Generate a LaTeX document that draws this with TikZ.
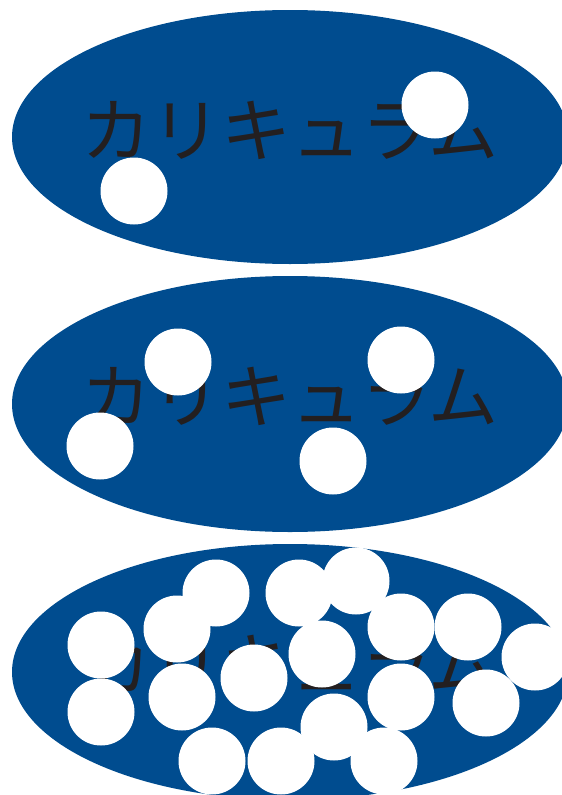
\documentclass[tikz,border=0pt]{standalone}
\usepackage{fontspec}
\newfontfamily\jpfont{Noto Sans CJK JP}
\definecolor{podblue}{RGB}{0,76,143}
\definecolor{inkgray}{RGB}{35,31,32}

\begin{document}
\begin{tikzpicture}[x=1pt,y=-1pt,
  pod/.style={fill=podblue},
  spot/.style={fill=white},
  kana/.style={text=inkgray,inner sep=0pt,font=\jpfont\fontsize{70}{70}\selectfont}]

\useasboundingbox (0,0) rectangle (562,795);

% Blue ellipses
\fill[pod] (290,137) ellipse (278 and 127);
\fill[pod] (290,404) ellipse (278 and 128);
\fill[pod] (290,672) ellipse (278 and 128);

% Labels
\node[kana] (top) at (290,130) {カリキュラム};
\node[kana] (mid) at (290,396) {カリキュラム};
\node[kana] (low) at (290,664) {カリキュラム};

% Top: two spots
\fill[spot] (435,105) circle (33.5);
\fill[spot] (134,191) circle (33.5);

% Middle: four spots
\fill[spot] (178,362) circle (33.5);
\fill[spot] (401,360) circle (33.5);
\fill[spot] (100,446) circle (33.5);
\fill[spot] (333,461) circle (33.5);

% Bottom: many spots
\fill[spot] (216,593) circle (33.5);
\fill[spot] (299,593) circle (33.5);
\fill[spot] (356,581) circle (33.5);
\fill[spot] (177,629) circle (33.5);
\fill[spot] (101,645) circle (33.5);
\fill[spot] (401,627) circle (33.5);
\fill[spot] (468,627) circle (33.5);
\fill[spot] (322,654) circle (33.5);
\fill[spot] (535,657) circle (33.5);
\fill[spot] (254,678) circle (33.5);
\fill[spot] (182,697) circle (33.5);
\fill[spot] (101,712) circle (33.5);
\fill[spot] (401,697) circle (33.5);
\fill[spot] (486,703) circle (33.5);
\fill[spot] (334,727) circle (33.5);
\fill[spot] (212,761) circle (33.5);
\fill[spot] (281,761) circle (33.5);
\fill[spot] (384,761) circle (33.5);

\end{tikzpicture}
\end{document}
